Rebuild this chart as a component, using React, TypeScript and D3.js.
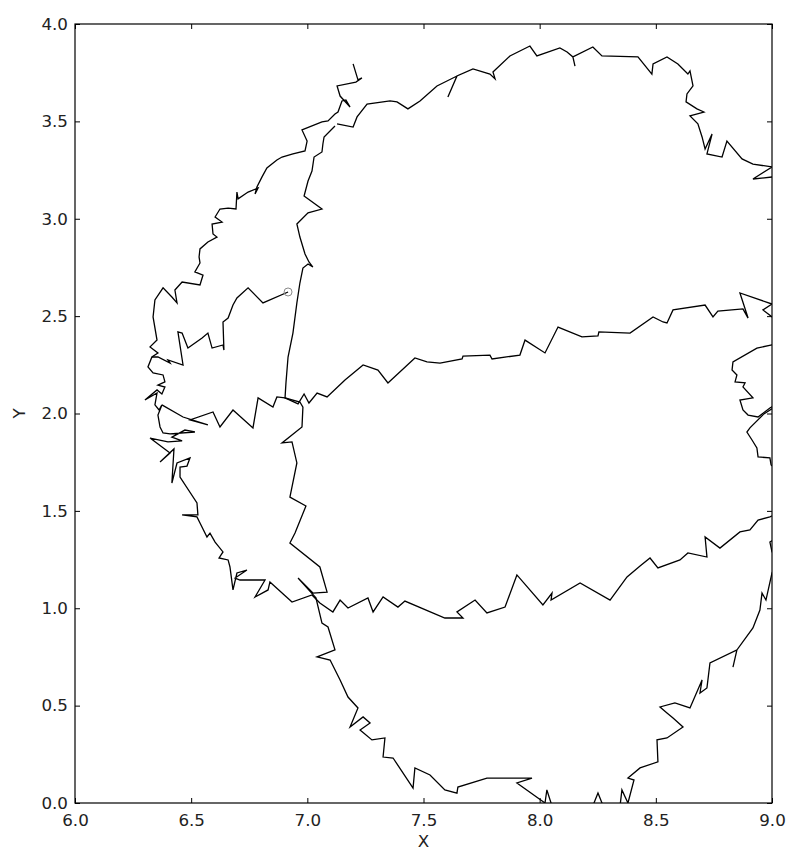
import React, { useRef, useEffect } from "react";
import { select, scaleLinear, line, axisBottom, axisLeft, axisTop, axisRight, format } from "d3";

const xTicks = [6.0, 6.5, 7.0, 7.5, 8.0, 8.5, 9.0];
const yTicks = [0.0, 0.5, 1.0, 1.5, 2.0, 2.5, 3.0, 3.5, 4.0];

// where the walk starts (drawn as a small open circle)
const startPoint = [6.917, 2.624];

// outer left arc: top spike, down the left side, then along y ~ 1
const outerArc = [
  [7.197, 3.795], [7.218, 3.713], [7.235, 3.723], [7.209, 3.702], [7.128, 3.682],
  [7.141, 3.63], [7.184, 3.574], [7.166, 3.61], [7.149, 3.605], [7.132, 3.548],
  [7.119, 3.538], [7.089, 3.502], [7.063, 3.497], [6.977, 3.456], [6.999, 3.399],
  [6.99, 3.348], [6.938, 3.333], [6.891, 3.317], [6.869, 3.302], [6.826, 3.261],
  [6.805, 3.215], [6.783, 3.163], [6.775, 3.127], [6.788, 3.158], [6.745, 3.137],
  [6.702, 3.102], [6.697, 3.137], [6.693, 3.05], [6.659, 3.055], [6.624, 3.05],
  [6.603, 3.009], [6.633, 2.983], [6.59, 2.973], [6.594, 2.922], [6.611, 2.906],
  [6.572, 2.881], [6.538, 2.845], [6.534, 2.804], [6.538, 2.773], [6.516, 2.727],
  [6.551, 2.711], [6.538, 2.66], [6.461, 2.675], [6.43, 2.634], [6.439, 2.568],
  [6.417, 2.598], [6.379, 2.645], [6.344, 2.583], [6.336, 2.496], [6.353, 2.377],
  [6.323, 2.342], [6.357, 2.311], [6.331, 2.29], [6.314, 2.239], [6.336, 2.208],
  [6.379, 2.198], [6.387, 2.162], [6.357, 2.146], [6.387, 2.136], [6.374, 2.1],
  [6.353, 2.121], [6.301, 2.069], [6.353, 2.105], [6.344, 2.044], [6.362, 2.018],
  [6.374, 2.044], [6.357, 1.992], [6.366, 1.931], [6.379, 1.9], [6.409, 1.895],
  [6.516, 1.905], [6.473, 1.915], [6.417, 1.879], [6.461, 1.859], [6.4, 1.854],
  [6.323, 1.874], [6.409, 1.797], [6.366, 1.751], [6.426, 1.818], [6.417, 1.643],
  [6.439, 1.746], [6.495, 1.772], [6.482, 1.73], [6.452, 1.725], [6.452, 1.674],
  [6.525, 1.541], [6.529, 1.479], [6.461, 1.479], [6.525, 1.469], [6.538, 1.438],
  [6.568, 1.366], [6.581, 1.386], [6.603, 1.34], [6.637, 1.289], [6.62, 1.258],
  [6.659, 1.248], [6.667, 1.212], [6.68, 1.094], [6.697, 1.181], [6.74, 1.196],
  [6.689, 1.155], [6.71, 1.145], [6.818, 1.145], [6.775, 1.058], [6.831, 1.094],
  [6.839, 1.135], [6.934, 1.032], [7.02, 1.068], [7.054, 1.027], [7.11, 0.981],
  [7.141, 1.042], [7.175, 1.001], [7.261, 1.053], [7.283, 0.981], [7.326, 1.058],
  [7.39, 1.006], [7.42, 1.037], [7.592, 0.95], [7.67, 0.95], [7.644, 0.981],
  [7.722, 1.042], [7.773, 0.976], [7.851, 1.006], [7.902, 1.171], [8.014, 1.017],
  [8.053, 1.078], [8.049, 1.042], [8.174, 1.13], [8.303, 1.042], [8.376, 1.161],
  [8.432, 1.217], [8.475, 1.258], [8.509, 1.207], [8.604, 1.248], [8.638, 1.284],
  [8.72, 1.263], [8.712, 1.366], [8.776, 1.309], [8.862, 1.392], [8.905, 1.402],
  [8.94, 1.453], [8.991, 1.469], [9.034, 1.494]
];

// upper arc across the top
const topArc = [
  [7.128, 3.487], [7.197, 3.471], [7.214, 3.523], [7.257, 3.589], [7.356, 3.605],
  [7.386, 3.6], [7.433, 3.564], [7.485, 3.605], [7.558, 3.682], [7.644, 3.733],
  [7.605, 3.625], [7.644, 3.733], [7.713, 3.769], [7.786, 3.743], [7.808, 3.718],
  [7.799, 3.754], [7.872, 3.836], [7.958, 3.887], [7.988, 3.836], [8.087, 3.877],
  [8.118, 3.856], [8.143, 3.831], [8.152, 3.784], [8.143, 3.831], [8.229, 3.882],
  [8.268, 3.836], [8.423, 3.831], [8.483, 3.743], [8.488, 3.795], [8.548, 3.831],
  [8.595, 3.795], [8.638, 3.743], [8.647, 3.759], [8.66, 3.682], [8.634, 3.641],
  [8.63, 3.6], [8.677, 3.564], [8.707, 3.548], [8.647, 3.528], [8.681, 3.487],
  [8.699, 3.42], [8.712, 3.358], [8.742, 3.435], [8.72, 3.333], [8.785, 3.317],
  [8.806, 3.399], [8.871, 3.307], [8.918, 3.281], [9.0, 3.266], [8.918, 3.204],
  [9.004, 3.215], [9.034, 3.22]
];

// near-vertical line around x ~ 7 running down to the bottom edge
const midLine = [
  [7.119, 3.476], [7.072, 3.42], [7.067, 3.384], [7.063, 3.343], [7.029, 3.317],
  [7.02, 3.245], [7.003, 3.194], [6.986, 3.117], [7.063, 3.05], [7.003, 3.03],
  [6.955, 2.973], [6.968, 2.906], [6.99, 2.819], [7.007, 2.778], [7.024, 2.752],
  [7.003, 2.768], [6.981, 2.747], [6.968, 2.67], [6.955, 2.568], [6.938, 2.413],
  [6.917, 2.29], [6.908, 2.157], [6.904, 2.08], [6.968, 2.059], [6.981, 2.033],
  [6.977, 1.931], [6.891, 1.849], [6.934, 1.854], [6.955, 1.746], [6.925, 1.571],
  [6.994, 1.525], [6.947, 1.386], [6.925, 1.335], [7.054, 1.212], [7.085, 1.083],
  [7.024, 1.078], [6.96, 1.155], [7.037, 1.053], [7.063, 0.924], [7.089, 0.904],
  [7.119, 0.786], [7.042, 0.75], [7.098, 0.734], [7.141, 0.632], [7.175, 0.544],
  [7.218, 0.488], [7.184, 0.39], [7.24, 0.442], [7.27, 0.411], [7.227, 0.375],
  [7.278, 0.324], [7.334, 0.334], [7.326, 0.236], [7.369, 0.231], [7.455, 0.077],
  [7.463, 0.18], [7.528, 0.144], [7.592, 0.067], [7.644, 0.051], [7.648, 0.082],
  [7.773, 0.128], [7.967, 0.128], [7.902, 0.103], [8.023, 0.0], [8.031, 0.067],
  [8.053, -0.015], [8.07, -0.062]
];

// middle band at y ~ 2.1 - 2.6
const midBand = [
  [6.904, 2.08], [6.96, 2.049], [6.986, 2.1], [7.007, 2.054], [7.042, 2.105],
  [7.085, 2.085], [7.162, 2.172], [7.24, 2.249], [7.304, 2.223], [7.347, 2.157],
  [7.463, 2.285], [7.515, 2.265], [7.571, 2.259], [7.666, 2.28], [7.67, 2.295],
  [7.786, 2.3], [7.795, 2.28], [7.915, 2.3], [7.937, 2.377], [8.023, 2.311],
  [8.079, 2.444], [8.182, 2.393], [8.251, 2.398], [8.255, 2.419], [8.389, 2.413],
  [8.488, 2.496], [8.531, 2.47], [8.548, 2.465], [8.574, 2.532], [8.712, 2.557],
  [8.746, 2.496], [8.767, 2.526], [8.875, 2.537], [8.897, 2.49], [8.862, 2.619],
  [9.0, 2.562], [8.961, 2.532], [9.0, 2.496], [9.026, 2.49]
];

// short band at y ~ 2.0 on the left
const leftBand = [
  [6.374, 2.044], [6.465, 1.982], [6.572, 1.941], [6.495, 1.967], [6.594, 2.008],
  [6.624, 1.931], [6.68, 2.018], [6.766, 1.926], [6.788, 2.08], [6.852, 2.033],
  [6.869, 2.085], [6.904, 2.08]
];

// branch from the start point to the left cluster
const startBranch = [
  [6.917, 2.624], [6.809, 2.568], [6.745, 2.645], [6.697, 2.593], [6.68, 2.557],
  [6.659, 2.49], [6.637, 2.47], [6.641, 2.326], [6.637, 2.352], [6.59, 2.336],
  [6.572, 2.413], [6.547, 2.388], [6.486, 2.336], [6.461, 2.413], [6.443, 2.419],
  [6.465, 2.249], [6.4, 2.275], [6.409, 2.259], [6.357, 2.29], [6.331, 2.29]
];

const rightLoop1 = [
  [9.026, 2.357], [9.0, 2.352], [8.935, 2.336], [8.832, 2.265], [8.828, 2.223],
  [8.849, 2.198], [8.841, 2.162], [8.884, 2.157], [8.875, 2.136], [8.918, 2.08],
  [8.862, 2.069], [8.875, 2.018], [8.897, 1.992], [8.94, 1.982], [8.991, 2.028],
  [9.026, 2.054]
];

const rightLoop2 = [
  [9.026, 2.044], [8.965, 1.998], [8.905, 1.926], [8.892, 1.905], [8.914, 1.864],
  [8.935, 1.823], [8.94, 1.777], [8.991, 1.772], [8.996, 1.736], [9.026, 1.71]
];

const rightBit = [[9.026, 1.366], [8.991, 1.34], [9.0, 1.289], [9.026, 1.268]];

// lower right arc rising from the bottom edge
const bottomArc = [
  [8.346, -0.015], [8.354, 0.067], [8.38, 0.0], [8.406, 0.118], [8.38, 0.128],
  [8.432, 0.18], [8.509, 0.211], [8.505, 0.324], [8.548, 0.334], [8.617, 0.39],
  [8.574, 0.436], [8.548, 0.462], [8.518, 0.493], [8.582, 0.514], [8.647, 0.488],
  [8.699, 0.632], [8.69, 0.565], [8.72, 0.591], [8.733, 0.719], [8.849, 0.786],
  [8.832, 0.698], [8.849, 0.786], [8.918, 0.899], [8.948, 0.991], [8.957, 1.078],
  [8.974, 1.042], [9.0, 1.181], [9.017, 1.222]
];

const bottomSpike = [[8.225, -0.026], [8.251, 0.051], [8.277, -0.026]];

const segments = [outerArc, topArc, midLine, midBand, leftBand, startBranch, rightLoop1, rightLoop2, rightBit, bottomArc, bottomSpike];

function App() {
  const svgRef = useRef(null);

  useEffect(() => {
    const svg = select(svgRef.current);
    svg.selectAll("*").remove();

    const width = 787;
    const height = 852;
    const margin = { top: 24, right: 15, bottom: 49, left: 75 };
    const font = "'DejaVu Sans', sans-serif";

    const x = scaleLinear().domain([6, 9]).range([margin.left, width - margin.right]);
    const y = scaleLinear().domain([0, 4]).range([height - margin.bottom, margin.top]);

    svg.append("rect").attr("width", width).attr("height", height).attr("fill", "#fff");

    svg
      .append("clipPath")
      .attr("id", "plotClip")
      .append("rect")
      .attr("x", x(6))
      .attr("y", y(4))
      .attr("width", x(9) - x(6))
      .attr("height", y(0) - y(4));

    const pathGen = line()
      .x(d => x(d[0]))
      .y(d => y(d[1]));

    // the walk
    svg
      .append("g")
      .attr("clip-path", "url(#plotClip)")
      .selectAll("path")
      .data(segments)
      .join("path")
      .attr("d", d => pathGen(d))
      .attr("fill", "none")
      .attr("stroke", "#000")
      .attr("stroke-width", 1.3)
      .attr("stroke-linejoin", "miter");

    svg
      .append("circle")
      .attr("cx", x(startPoint[0]))
      .attr("cy", y(startPoint[1]))
      .attr("r", 4)
      .attr("fill", "none")
      .attr("stroke", "#888")
      .attr("stroke-width", 1);

    const fmt = format(".1f");

    const styleAxis = g => {
      g.select(".domain").remove();
      g.selectAll("line").attr("stroke", "#000").attr("stroke-width", 1);
      g.attr("font-family", font).attr("font-size", 16.7);
      g.selectAll("text").attr("fill", "#222");
    };

    svg
      .append("g")
      .attr("transform", `translate(0,${y(0)})`)
      .call(axisBottom(x).tickValues(xTicks).tickFormat(fmt).tickSizeInner(-5).tickSizeOuter(0).tickPadding(11))
      .call(styleAxis);

    svg
      .append("g")
      .attr("transform", `translate(${x(6)},0)`)
      .call(axisLeft(y).tickValues(yTicks).tickFormat(fmt).tickSizeInner(-5).tickSizeOuter(0).tickPadding(7))
      .call(styleAxis);

    svg
      .append("g")
      .attr("transform", `translate(0,${y(4)})`)
      .call(axisTop(x).tickValues(xTicks).tickFormat(() => "").tickSizeInner(-5).tickSizeOuter(0))
      .call(styleAxis);

    svg
      .append("g")
      .attr("transform", `translate(${x(9)},0)`)
      .call(axisRight(y).tickValues(yTicks).tickFormat(() => "").tickSizeInner(-5).tickSizeOuter(0))
      .call(styleAxis);

    // frame
    svg
      .append("rect")
      .attr("x", x(6))
      .attr("y", y(4))
      .attr("width", x(9) - x(6))
      .attr("height", y(0) - y(4))
      .attr("fill", "none")
      .attr("stroke", "#000")
      .attr("stroke-width", 1.2);

    svg
      .append("text")
      .attr("x", (x(6) + x(9)) / 2)
      .attr("y", 847)
      .attr("text-anchor", "middle")
      .attr("font-family", font)
      .attr("font-size", 16.7)
      .attr("fill", "#222")
      .text("X");

    svg
      .append("text")
      .attr("transform", `translate(25,${(y(0) + y(4)) / 2}) rotate(-90)`)
      .attr("text-anchor", "middle")
      .attr("font-family", font)
      .attr("font-size", 16.7)
      .attr("fill", "#222")
      .text("Y");
  }, []);

  return (
    <svg
      ref={svgRef}
      width={787}
      height={852}
      style={{ position: "absolute", left: 0, top: 0 }}
    />
  );
}

export default App;
